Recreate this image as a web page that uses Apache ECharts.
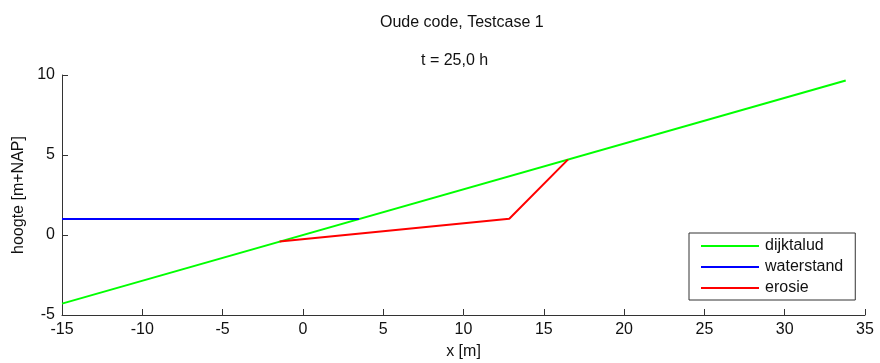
<!DOCTYPE html>
<html>
<head>
<meta charset="utf-8">
<script src="https://cdn.jsdelivr.net/npm/echarts@6/dist/echarts.min.js"></script>
<style>html,body{margin:0;padding:0;background:#fff}#c{width:880px;height:363px}</style>
</head>
<body>
<div id="c"></div>
<script>
var titleText = 'Oude code, Testcase 1';
var subtitleText = 't = 25,0 h';
var xName = 'x [m]';
var yName = 'hoogte [m+NAP]';
var seriesNames = ['dijktalud', 'waterstand', 'erosie'];
var dijktalud = [[-15, -4.29], [33.8, 9.66]];
var waterstand = [[-15, 1.0], [3.5, 1.0]];
var erosie = [[-1.45, -0.41], [12.85, 1.02], [16.5, 4.71]];
var colors = ['#00ff00', '#0000ff', '#ff0000'];

var chart = echarts.init(document.getElementById('c'));
var font = 'Liberation Sans, Arial, sans-serif';
function mk(name, data, color) {
  return {name: name, type: 'line', data: data, symbol: 'none', showSymbol: false,
    lineStyle: {color: color, width: 2}, itemStyle: {color: color}, animation: false};
}
chart.setOption({
  animation: false,
  grid: {left: 62, right: 15, top: 75, bottom: 48, containLabel: false, outerBoundsMode: 'none'},
  graphic: [
    {type: 'text', left: 380, top: 15, style: {text: titleText, font: '16px ' + font, fill: '#111'}},
    {type: 'text', left: 421, top: 53, style: {text: subtitleText, font: '16px ' + font, fill: '#111'}}
  ],
  legend: {
    orient: 'vertical', left: 689, top: 233,
    data: seriesNames.map(function (n) { return {name: n, icon: 'rect'}; }),
    borderColor: '#333', borderWidth: 1, borderRadius: 0,
    padding: [5, 12, 4, 12], itemGap: 5, itemWidth: 58, itemHeight: 2,
    textStyle: {fontSize: 16, lineHeight: 16, fontFamily: font, color: '#111', padding: [0, 0, 0, 1]},
    backgroundColor: '#fff'
  },
  xAxis: {
    type: 'value', min: -15, max: 35, interval: 5,
    name: xName, nameLocation: 'middle', nameGap: 29,
    nameTextStyle: {fontSize: 16, fontFamily: font, color: '#111'},
    axisLine: {onZero: false, lineStyle: {color: '#333', width: 1}},
    axisTick: {inside: true, length: 6, lineStyle: {color: '#333'}},
    axisLabel: {fontSize: 16, fontFamily: font, color: '#111', margin: 7},
    splitLine: {show: false}
  },
  yAxis: {
    type: 'value', min: -5, max: 10, interval: 5,
    name: yName, nameLocation: 'middle', nameGap: 33,
    nameTextStyle: {fontSize: 16, fontFamily: font, color: '#111'},
    axisLine: {show: true, onZero: false, lineStyle: {color: '#333', width: 1}},
    axisTick: {show: true, inside: true, length: 6, lineStyle: {color: '#333'}},
    axisLabel: {fontSize: 16, fontFamily: font, color: '#111', margin: 7},
    splitLine: {show: false}
  },
  series: [
    mk(seriesNames[0], dijktalud, colors[0]),
    mk(seriesNames[1], waterstand, colors[1]),
    mk(seriesNames[2], erosie, colors[2])
  ]
});
</script>
</body>
</html>
